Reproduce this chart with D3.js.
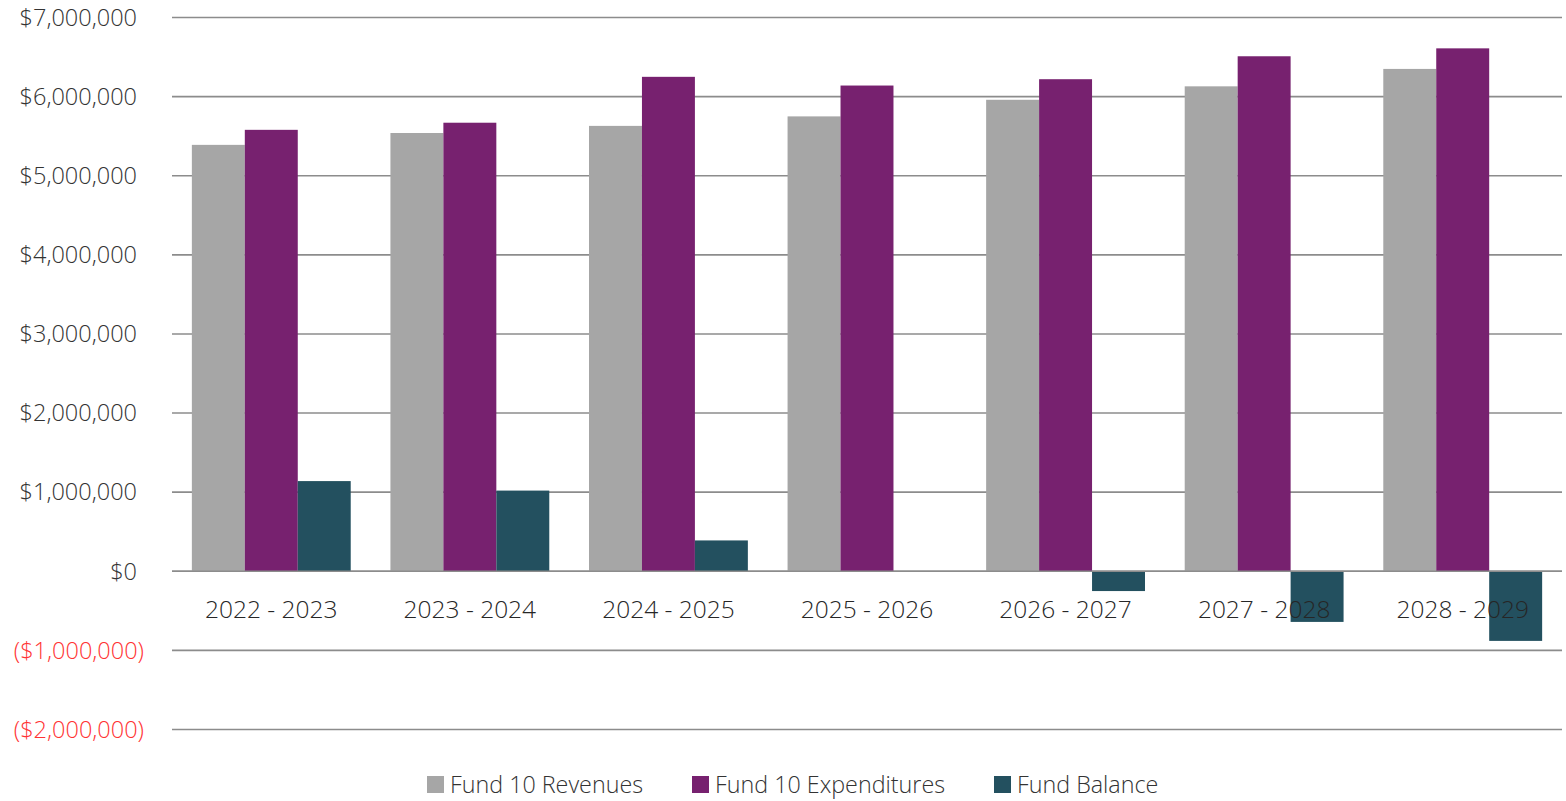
<!DOCTYPE html>
<html>
<head>
<meta charset="utf-8">
<script src="https://cdn.jsdelivr.net/npm/d3@7"></script>
<style>
  body { margin: 0; background: #fff; }
  svg text { font-family: "Open Sans", "Noto Sans", sans-serif; font-weight: 300; }
</style>
</head>
<body>
<div id="chart"></div>
<script>
// chart data
var years = ["2022 - 2023", "2023 - 2024", "2024 - 2025", "2025 - 2026", "2026 - 2027", "2027 - 2028", "2028 - 2029"];
var revenues = [5390000, 5540000, 5630000, 5750000, 5960000, 6130000, 6350000];
var expenditures = [5580000, 5670000, 6250000, 6140000, 6220000, 6510000, 6610000];
var balance = [1140000, 1020000, 390000, 0, -250000, -640000, -880000];
var seriesNames = ["Fund 10 Revenues", "Fund 10 Expenditures", "Fund Balance"];
var yTicks = [-2000000, -1000000, 0, 1000000, 2000000, 3000000, 4000000, 5000000, 6000000, 7000000];

var colors = ["#a6a6a6", "#77216f", "#23505f"];

var width = 1566, height = 801;
var margin = { top: 18, right: 4, bottom: 72, left: 172 };

var svg = d3.select("#chart").append("svg")
    .attr("width", width)
    .attr("height", height);

var yScale = d3.scaleLinear()
    .domain([-2000000, 7000000])
    .range([height - margin.bottom + 0.5, margin.top - 0.5]);

var xScale = d3.scaleBand()
    .domain(years)
    .range([margin.left, width - margin.right])
    .paddingInner(0.2)
    .paddingOuter(0.1);

var xInner = d3.scaleBand()
    .domain(seriesNames)
    .range([0, xScale.bandwidth()]);

// gridlines
svg.append("g")
    .selectAll("line")
    .data(yTicks)
    .enter()
    .append("line")
    .attr("x1", margin.left)
    .attr("x2", width - margin.right)
    .attr("y1", d => yScale(d))
    .attr("y2", d => yScale(d))
    .attr("stroke", "#8c8c8c")
    .attr("stroke-width", 1.6);

// y labels
var fmt = d3.format(",");
svg.append("g")
    .selectAll("text")
    .data(yTicks)
    .enter()
    .append("text")
    .attr("x", 137)
    .attr("y", d => yScale(d))
    .attr("dy", "0.35em")
    .attr("text-anchor", "end")
    .style("font-size", "23.5px")
    .attr("fill", d => d < 0 ? "#ff3333" : "#333333")
    .attr("transform", d => d < 0 ? "translate(7,0)" : null)
    .text(d => d < 0 ? "($" + fmt(-d) + ")" : "$" + fmt(d));

// bars
var rows = years.map((y, i) => ({ year: y, values: [revenues[i], expenditures[i], balance[i]] }));
var groups = svg.append("g")
    .selectAll("g")
    .data(rows)
    .enter()
    .append("g")
    .attr("transform", d => "translate(" + xScale(d.year) + ",0)");

groups.selectAll("rect")
    .data(d => d.values.map((v, j) => ({ name: seriesNames[j], value: v, c: colors[j] })))
    .enter()
    .append("rect")
    .attr("x", d => xInner(d.name))
    .attr("width", xInner.bandwidth())
    .attr("y", d => yScale(Math.max(0, d.value)))
    .attr("height", d => Math.abs(yScale(d.value) - yScale(0)))
    .attr("fill", d => d.c);

// zero line drawn again on top
svg.append("line")
    .attr("x1", margin.left)
    .attr("x2", width - margin.right)
    .attr("y1", yScale(0))
    .attr("y2", yScale(0))
    .attr("stroke", "#8c8c8c")
    .attr("stroke-width", 1.6);

// category labels
svg.append("g")
    .selectAll("text")
    .data(years)
    .enter()
    .append("text")
    .attr("x", d => xScale(d) + xScale.bandwidth() / 2)
    .attr("y", yScale(0) + 47)
    .attr("text-anchor", "middle")
    .style("font-size", "24.5px")
    .attr("fill", "#262626")
    .text(d => d);

// legend
var legendX = [427, 692, 994];
var legend = svg.append("g")
    .selectAll("g")
    .data(seriesNames)
    .enter()
    .append("g")
    .attr("transform", (d, i) => "translate(" + legendX[i] + ",776)");
legend.append("rect")
    .attr("width", 17)
    .attr("height", 17)
    .attr("fill", (d, i) => colors[i]);
legend.append("text")
    .attr("x", 23)
    .attr("y", 9)
    .attr("dy", "0.35em")
    .style("font-size", "23.3px")
    .attr("fill", "#333333")
    .text(d => d);
</script>
</body>
</html>
